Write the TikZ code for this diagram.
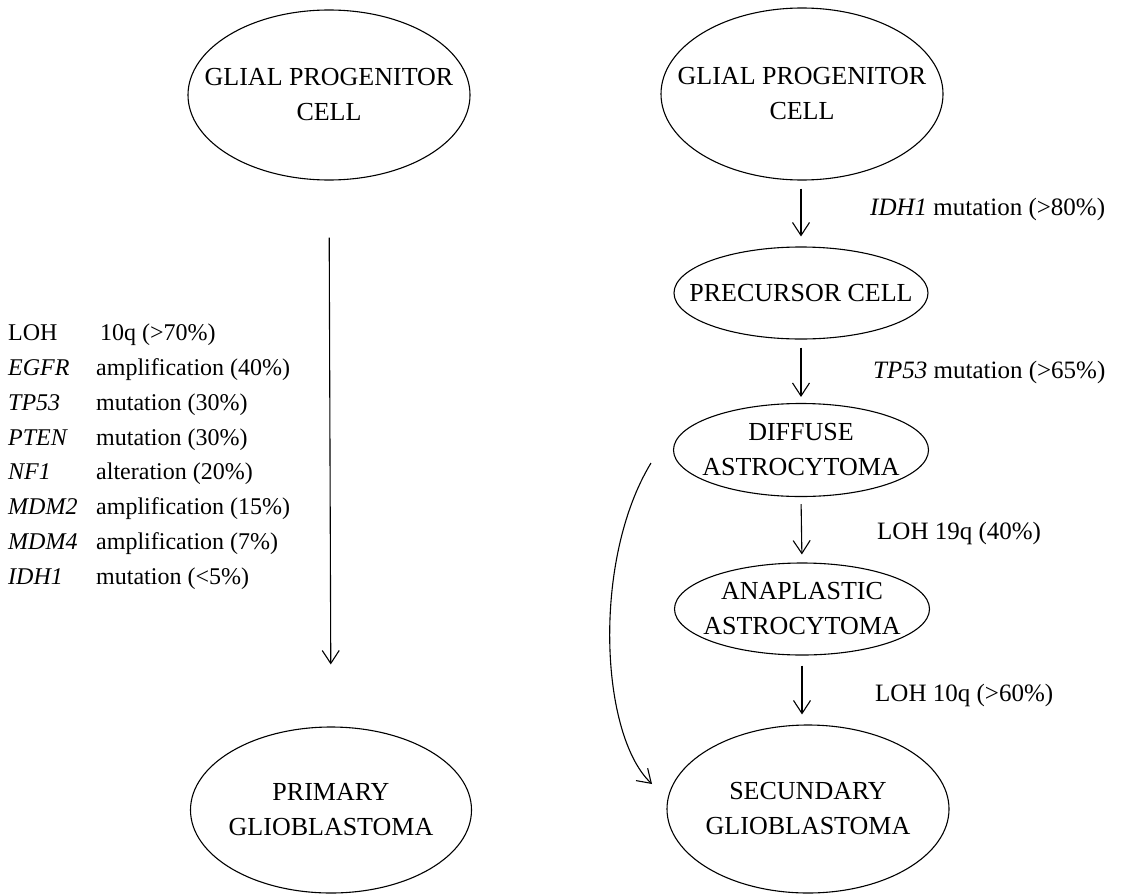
\documentclass[tikz,border=0pt]{standalone}
\usepackage{fontspec}
\setmainfont{Liberation Serif}
\usetikzlibrary{shapes.geometric,arrows.meta}
\tikzset{
  ell/.style={draw, ellipse, inner sep=0pt, line width=1.1pt},
  ltxt/.style={align=center, inner sep=0pt, font=\fontsize{26}{35}\selectfont},
  lst/.style={anchor=base west, inner sep=0pt, font=\fontsize{24}{29}\selectfont},
  rlab/.style={anchor=base west, inner sep=0pt, font=\fontsize{25}{30}\selectfont},
  arr/.style={line width=1.1pt, -{Straight Barb[length=13pt,width=17pt]}}
}
\begin{document}
\begin{tikzpicture}[x=1pt,y=-1pt]
\useasboundingbox (0,0) rectangle (1121,894);
% left column
\node[ell, minimum width=282pt, minimum height=170pt,
  label={[ltxt]center:GLIAL PROGENITOR\\CELL}] (g1) at (329,95) {};
\node[ell, minimum width=281pt, minimum height=166pt,
  label={[ltxt]center:PRIMARY\\GLIOBLASTOMA}] (pg) at (331,810) {};
\draw[arr, shorten <=57pt, shorten >=62pt] (g1.south) -- (pg.north);
% left list
\node[lst] (l1) at (8,340) {\makebox[92pt][l]{LOH}10q (>70\%)};
\node[lst] (l2) at (8,375) {\makebox[88pt][l]{\itshape EGFR}amplification (40\%)};
\node[lst] (l3) at (8,410) {\makebox[88pt][l]{\itshape TP53}mutation (30\%)};
\node[lst] (l4) at (8,445) {\makebox[88pt][l]{\itshape PTEN}mutation (30\%)};
\node[lst] (l5) at (8,479) {\makebox[88pt][l]{\itshape NF1}alteration (20\%)};
\node[lst] (l6) at (8,514) {\makebox[88pt][l]{\itshape MDM2}amplification (15\%)};
\node[lst] (l7) at (8,549) {\makebox[88pt][l]{\itshape MDM4}amplification (7\%)};
\node[lst] (l8) at (8,584) {\makebox[88pt][l]{\itshape IDH1}mutation (<5\%)};
% right column
\node[ell, minimum width=282pt, minimum height=172pt,
  label={[ltxt]center:GLIAL PROGENITOR\\CELL}] (g2) at (802,94) {};
\node[ell, minimum width=254pt, minimum height=92pt,
  label={[ltxt]center:PRECURSOR CELL}] (pc) at (801,293) {};
\node[ell, minimum width=255pt, minimum height=93pt,
  label={[ltxt]center:DIFFUSE\\ASTROCYTOMA}] (da) at (801,450) {};
\node[ell, minimum width=255pt, minimum height=92pt,
  label={[ltxt]center:ANAPLASTIC\\ASTROCYTOMA}] (aa) at (802,609) {};
\node[ell, minimum width=282pt, minimum height=168pt,
  label={[ltxt]center:SECUNDARY\\GLIOBLASTOMA}] (sg) at (808,809) {};
\draw[arr, shorten <=8pt, shorten >=10pt] (g2.south -| pc.north) -- (pc.north);
\draw[arr, shorten <=8pt, shorten >=6pt] (pc.south) -- (da.north);
\draw[arr, shorten <=7pt, shorten >=8pt] (da.south) -- (aa.north);
\draw[arr, shorten <=10pt, shorten >=10pt] (aa.south) -- (aa.south |- sg.north);
% right labels
\node[rlab] (t1) at (870,215) {\textit{IDH1} mutation (>80\%)};
\node[rlab] (t2) at (873,378) {\textit{TP53} mutation (>65\%)};
\node[rlab] (t3) at (877,539) {LOH 19q (40\%)};
\node[rlab] (t4) at (875,701) {LOH 10q (>60\%)};
% curved arrow
\coordinate (cs) at (651,463);
\coordinate (ce) at (652,784);
\draw[arr] (cs) .. controls (592,560) and (600,735) .. (ce);
\end{tikzpicture}
\end{document}
